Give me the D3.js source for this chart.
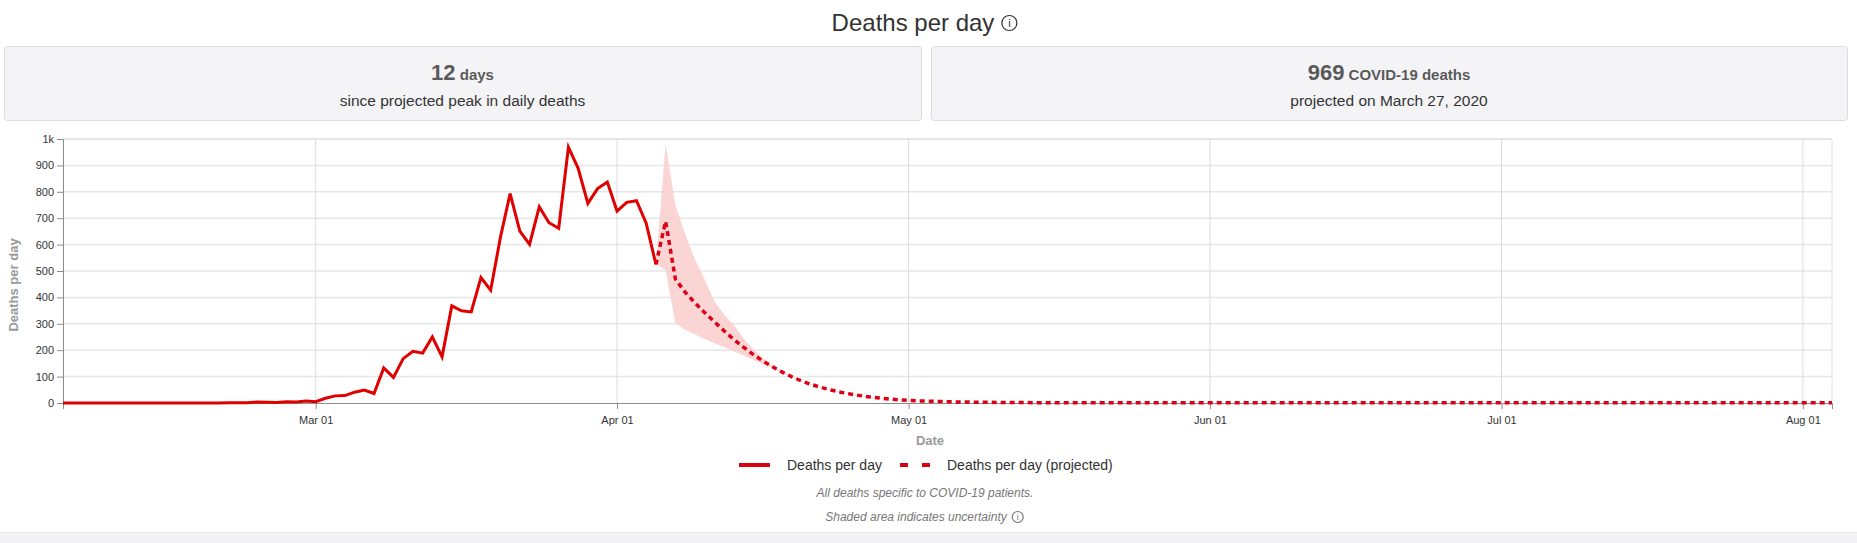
<!DOCTYPE html>
<html>
<head>
<meta charset="utf-8">
<script src="https://cdn.jsdelivr.net/npm/d3@7"></script>
<style>
  body { margin: 0; background: #fff; }
  svg text { font-family: "Liberation Sans", Arial, sans-serif; }
  .grid line { stroke: #e6e6e6; stroke-width: 1.5; }
  .vgrid line { stroke: #dcdcdc; stroke-width: 1; }
  .axis text { font-size: 11px; fill: #333; }
  .axis path, .axis line { stroke: #8c8c8c; }
</style>
</head>
<body>
<svg id="chart" width="1857" height="543"></svg>
<script>
// daily deaths, one value per day starting at actualStart
var actualStart = "2020-02-04";
var actualDeaths = [
  0, 0, 0, 0, 0, 0, 0, 0, 0, 0, 0, 0, 0, 0, 0, 0, 0,
  1, 1, 1, 4, 3, 2, 5, 4, 8,
  5, 18, 27, 28, 41, 49, 36, 133, 97, 168, 196, 189, 250, 175, 368, 349,
  345, 475, 427, 627, 793, 651, 601, 743, 683, 662, 969, 889, 756, 812, 837,
  727, 760, 766, 681, 525
];

// projected daily deaths from projectedStart to the end of the axis
var projectedStart = "2020-04-05";
var projectedDeaths = [
  525, 688, 470, 420, 380, 343, 308, 274, 241, 212, 184, 159, 137, 117, 99, 83,
  70, 59, 49, 41, 34, 28, 23, 19, 15, 12,
  10, 8, 7, 6, 5, 4, 4, 3, 3, 2, 2, 2, 2, 1, 1, 1, 1, 1, 1, 1, 1, 1, 1, 1, 1, 1,
  1, 1, 1, 1, 1,
  1, 1, 1, 1, 1, 1, 1, 1, 1, 1, 1, 1, 1, 1, 1, 1, 1, 1, 1, 1, 1, 1, 1, 1, 1, 1,
  1, 1, 1, 1,
  1, 1, 1, 1, 1, 1, 1, 1, 1, 1, 1, 1, 1, 1, 1, 1, 1, 1, 1, 1, 1, 1, 1, 1, 1, 1,
  1, 1, 1, 1, 1,
  1, 1, 1, 1
];

// uncertainty band
var bandStart = "2020-04-05";
var bandUpper = [525, 980, 750, 640, 545, 470, 385, 335, 295, 245, 205, 170, 140, 120,
  100, 84, 71, 60, 50, 42, 35, 29, 24, 20, 16, 13, 11, 9, 8, 7, 6];
var bandLower = [525, 504, 302, 277, 260, 242, 226, 212, 196, 180, 164, 147, 131, 114,
  97, 81, 68, 57, 47, 39, 32, 26, 21, 17, 14, 11, 9, 7, 6, 5, 4];

var yTicks = [0, 100, 200, 300, 400, 500, 600, 700, 800, 900, 1000];
var xTicks = ["2020-03-01", "2020-04-01", "2020-05-01", "2020-06-01", "2020-07-01", "2020-08-01"];
var xDomain = ["2020-02-04", "2020-08-04"];

var parseDate = d3.timeParse("%Y-%m-%d");

function toSeries(start, values) {
  var s = parseDate(start);
  return values.map(function(v, i) {
    return { date: d3.timeDay.offset(s, i), value: v };
  });
}

var actual = toSeries(actualStart, actualDeaths);
var projected = toSeries(projectedStart, projectedDeaths);
var band = bandUpper.map(function(u, i) {
  return { date: d3.timeDay.offset(parseDate(bandStart), i), hi: u, lo: bandLower[i] };
});

var svgWidth = 1857, svgHeight = 543;
var margin = { top: 139, right: 25, bottom: 140, left: 63 };
var chartWidth = svgWidth - margin.left - margin.right;
var chartHeight = svgHeight - margin.top - margin.bottom;

var svg = d3.select("#chart");

// title
var titleG = svg.append("g");
var title = titleG.append("text")
  .attr("y", 31)
  .attr("font-size", "24px")
  .attr("fill", "#333")
  .text("Deaths per day");
var tw = title.node().getComputedTextLength();
var tx = 925 - (tw + 24) / 2;
title.attr("x", tx);
function infoIcon(g, cx, cy, r, color, fs) {
  g.append("circle").attr("cx", cx).attr("cy", cy).attr("r", r)
    .attr("fill", "none").attr("stroke", color).attr("stroke-width", 1.2);
  g.append("text").attr("x", cx).attr("y", cy + fs * 0.36)
    .attr("text-anchor", "middle").attr("font-size", fs + "px").attr("fill", color).text("i");
}
infoIcon(titleG, tx + tw + 15, 23, 7.5, "#333", 11);

// summary boxes
var boxes = [
  { x: 4, w: 917, big: "12", small: " days", sub: "since projected peak in daily deaths" },
  { x: 931, w: 916, big: "969", small: " COVID-19 deaths", sub: "projected on March 27, 2020" }
];
boxes.forEach(function(b) {
  svg.append("rect")
    .attr("x", b.x + 0.5).attr("y", 46.5).attr("width", b.w).attr("height", 74)
    .attr("rx", 3).attr("fill", "#f4f4f7").attr("stroke", "#dcdcdf");
  var t = svg.append("text")
    .attr("x", b.x + b.w / 2).attr("y", 80)
    .attr("text-anchor", "middle").attr("font-weight", "bold").attr("fill", "#5a5a5a");
  t.append("tspan").attr("font-size", "22px").text(b.big);
  t.append("tspan").attr("font-size", "15px").text(b.small);
  svg.append("text")
    .attr("x", b.x + b.w / 2).attr("y", 106)
    .attr("text-anchor", "middle").attr("font-size", "15.5px").attr("fill", "#333")
    .text(b.sub);
});

var chartGroup = svg.append("g")
  .attr("transform", `translate(${margin.left}, ${margin.top})`);

// scales
var xTimeScale = d3.scaleTime()
  .domain(xDomain.map(parseDate))
  .range([0, chartWidth]);
var yLinearScale = d3.scaleLinear()
  .domain([0, 1000])
  .range([chartHeight, 0]);

// grid
chartGroup.append("g").attr("class", "grid")
  .selectAll("line").data(yTicks.slice(1)).enter().append("line")
  .attr("x1", 0).attr("x2", chartWidth)
  .attr("y1", d => yLinearScale(d)).attr("y2", d => yLinearScale(d))
  .attr("stroke-width", d => d === 1000 ? 2 : 1.5)
  .style("stroke", d => d === 1000 ? "#dddddd" : null);

chartGroup.append("g").attr("class", "vgrid")
  .selectAll("line").data(xTicks.map(parseDate)).enter().append("line")
  .attr("x1", d => xTimeScale(d)).attr("x2", d => xTimeScale(d))
  .attr("y1", 0).attr("y2", chartHeight);

chartGroup.append("line")
  .attr("x1", chartWidth).attr("x2", chartWidth)
  .attr("y1", 0).attr("y2", chartHeight)
  .attr("stroke", "#e2e2e2");

// axes
var bottomAxis = d3.axisBottom(xTimeScale)
  .tickValues(xTicks.map(parseDate))
  .tickFormat(d3.timeFormat("%b %d"))
  .tickSize(6);
var leftAxis = d3.axisLeft(yLinearScale)
  .tickValues(yTicks)
  .tickFormat(d => d === 1000 ? "1k" : d)
  .tickSize(6);

chartGroup.append("g").attr("class", "axis")
  .attr("transform", `translate(0, ${chartHeight})`)
  .call(bottomAxis)
  .selectAll("text").attr("dy", "1.05em");

chartGroup.append("g").attr("class", "axis")
  .call(leftAxis)
  .selectAll("text").attr("x", -9);

// uncertainty band
var area = d3.area()
  .x(d => xTimeScale(d.date))
  .y0(d => yLinearScale(d.lo))
  .y1(d => yLinearScale(d.hi));
chartGroup.append("path")
  .datum(band)
  .attr("d", area)
  .attr("fill", "#fbcfcf")
  .attr("opacity", 0.9);

var line = d3.line()
  .x(d => xTimeScale(d.date))
  .y(d => yLinearScale(d.value));

chartGroup.append("path")
  .datum(projected)
  .attr("d", line)
  .attr("fill", "none")
  .attr("stroke", "#dc0016")
  .attr("stroke-width", 3.5)
  .attr("stroke-dasharray", "5,4");

chartGroup.append("path")
  .datum(actual)
  .attr("d", line)
  .attr("fill", "none")
  .attr("stroke", "#e00000")
  .attr("stroke-width", 3)
  .attr("stroke-linejoin", "miter");

// axis labels
chartGroup.append("text")
  .attr("transform", "rotate(-90)")
  .attr("x", -(chartHeight / 2) - 14)
  .attr("y", -margin.left + 18)
  .attr("text-anchor", "middle")
  .attr("font-size", "13px")
  .attr("font-weight", "bold")
  .attr("fill", "#999")
  .text("Deaths per day");

svg.append("text")
  .attr("x", 930).attr("y", 445)
  .attr("text-anchor", "middle")
  .attr("font-size", "13px")
  .attr("font-weight", "bold")
  .attr("fill", "#999")
  .text("Date");

// legend
var legend = svg.append("g");
legend.append("line")
  .attr("x1", 739).attr("x2", 770).attr("y1", 465).attr("y2", 465)
  .attr("stroke", "#d9000f").attr("stroke-width", 4);
legend.append("text")
  .attr("x", 787).attr("y", 470).attr("font-size", "14px").attr("fill", "#333")
  .text("Deaths per day");
legend.append("line")
  .attr("x1", 900).attr("x2", 931).attr("y1", 465).attr("y2", 465)
  .attr("stroke", "#d9000f").attr("stroke-width", 4)
  .attr("stroke-dasharray", "8,14");
legend.append("text")
  .attr("x", 947).attr("y", 470).attr("font-size", "14px").attr("fill", "#333")
  .text("Deaths per day (projected)");

// notes
svg.append("text")
  .attr("x", 925).attr("y", 497)
  .attr("text-anchor", "middle")
  .attr("font-size", "12px").attr("font-style", "italic").attr("fill", "#777")
  .text("All deaths specific to COVID-19 patients.");
var note2 = svg.append("text")
  .attr("y", 521)
  .attr("font-size", "12px").attr("font-style", "italic").attr("fill", "#777")
  .text("Shaded area indicates uncertainty");
var nw = note2.node().getComputedTextLength();
var nx = 925 - (nw + 18) / 2;
note2.attr("x", nx);
infoIcon(svg, nx + nw + 11, 517, 5.5, "#777", 9);

// bottom strip
svg.append("rect")
  .attr("x", 0).attr("y", 532).attr("width", svgWidth).attr("height", 11)
  .attr("fill", "#f3f3f6");
svg.append("line")
  .attr("x1", 0).attr("x2", svgWidth).attr("y1", 532.5).attr("y2", 532.5)
  .attr("stroke", "#e3e3e6");
</script>
</body>
</html>
